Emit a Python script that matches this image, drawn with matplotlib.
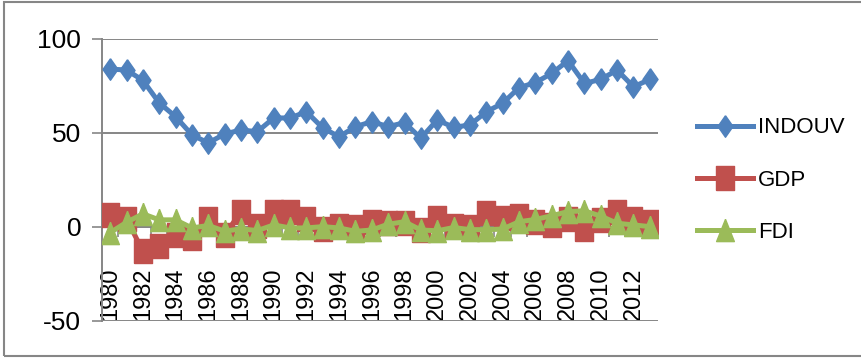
import numpy as np
import matplotlib
matplotlib.use('Agg')
import matplotlib.pyplot as plt
from matplotlib.patches import Rectangle

years = list(range(1980, 2014))
indouv = [84, 83.5, 78, 66, 58.7, 49, 44.7, 49.5, 51.6, 50.7,
          58, 58, 61.3, 52.7, 48, 53.4, 56, 53.4, 55.5, 47.2,
          57, 53, 54.3, 61.3, 65.8, 74.1, 76.8, 81.7, 88.5, 76.4,
          78.5, 83.5, 74.6, 78.5]
gdp = [6.3, 4.5, -13, -10, -4.3, -5.8, 4.3, -4.3, 8.2, 0.5,
       8.2, 8.2, 4.3, -1, 0.3, 0, 2.9, 2, 2, -1.6,
       4.7, 0.3, 0, 7.4, 4.7, 5.6, 2.5, 1, 4, -1,
       3.5, 8.2, 4.3, 2.9]
fdi = [-3, 2.5, 7, 3.8, 3.8, -0.5, 0.8, -2.2, -1, -1.9,
       1.1, -0.5, -0.5, 0.2, -0.5, -2.3, -1.6, 1.5, 2.8, -1.6,
       -2, -0.3, -1.4, -1.4, -1.1, 2.8, 4, 6, 8.2, 8.6,
       5.8, 2, 1.1, 0.2]
yticks = [-50, 0, 50, 100]

blue = '#4F81BD'
red = '#C0504D'
green = '#9BBB59'
grey = '#868686'

# tall markers, like the stretched excel ones
diamond = [(0, 1), (0.7, 0), (0, -1), (-0.7, 0), (0, 1)]
square = [(-0.74, -1), (0.74, -1), (0.74, 1), (-0.74, 1), (-0.74, -1)]
triangle = [(0, 1), (0.8, -1), (-0.8, -1), (0, 1)]

plt.rcParams['font.family'] = ['Liberation Sans', 'DejaVu Sans']
plt.rcParams['axes.unicode_minus'] = False

fig = plt.figure(figsize=(8.62, 3.58), dpi=100)
ax = fig.add_axes([102/862, 1 - 321/358, 556/862, 282/358])

x = np.arange(len(years))
ax.plot(x, indouv, color=blue, lw=3.6, marker=diamond, ms=15.5, label='INDOUV', zorder=3)
ax.plot(x, gdp, color=red, lw=3.6, marker=square, ms=17, label='GDP', zorder=4)
ax.plot(x, fdi, color=green, lw=3.6, marker=triangle, ms=16, label='FDI', zorder=5)

ax.set_xlim(-0.5, len(years) - 0.5)
ax.set_ylim(-50, 100)
ax.set_yticks(yticks)
ax.yaxis.grid(True, color=grey, lw=1.4)
ax.set_axisbelow(True)
ax.tick_params(axis='y', length=7, width=1.2, color=grey, pad=8, labelsize=19)

for s in ['top', 'right']:
    ax.spines[s].set_visible(False)
ax.spines['left'].set_color(grey)
ax.spines['left'].set_linewidth(1.4)
# category axis crosses at zero, tick marks between categories
ax.spines['bottom'].set_position(('data', 0))
ax.spines['bottom'].set_color(grey)
ax.spines['bottom'].set_linewidth(1.4)
ax.set_xticks(np.arange(-0.5, len(years), 1.0))
ax.tick_params(axis='x', length=7, width=1.2, color=grey, labelbottom=False)

# year labels sit at the low end of the plot
sec = ax.secondary_xaxis('bottom')
sec.set_xticks(x[::2], [str(y) for y in years[::2]])
sec.tick_params(length=0, pad=-1, labelsize=17)
for t in sec.get_xticklabels():
    t.set_rotation(90)
    t.set_va('bottom')
sec.spines['bottom'].set_visible(False)

fig.legend(loc='center left', bbox_to_anchor=(697/862, 0.497), frameon=False,
           fontsize=16, handlelength=2.5, handletextpad=0.25, labelspacing=1.4,
           borderpad=0, borderaxespad=0)

fig.patches.append(Rectangle((4/862, 2/358), 1.0, 354/358, transform=fig.transFigure,
                             fill=False, edgecolor=grey, lw=1.5))

fig.savefig('out.png', dpi=100)
